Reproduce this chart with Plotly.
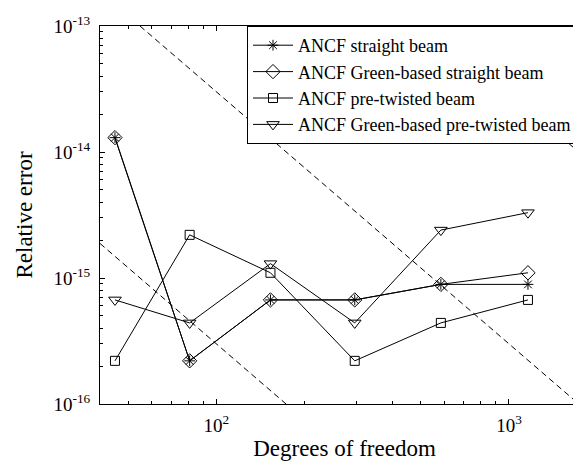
import math
import plotly.graph_objects as go

dof = [45, 81, 153, 297, 585, 1161]
err_straight = [1.3e-14, 2.2e-16, 6.7e-16, 6.7e-16, 8.9e-16, 8.9e-16]
err_green_straight = [1.3e-14, 2.2e-16, 6.7e-16, 6.7e-16, 8.9e-16, 1.1e-15]
err_twisted = [2.2e-16, 2.2e-15, 1.1e-15, 2.2e-16, 4.4e-16, 6.7e-16]
err_green_twisted = [6.7e-16, 4.4e-16, 1.3e-15, 4.4e-16, 2.4e-15, 3.3e-15]

# dashed reference lines (endpoints)
ref1_x = [40, 173]
ref1_y = [1.88e-15, 1e-16]
ref2_x = [54.8, 1732]
ref2_y = [1e-13, 1e-16]
ref3_x = [548, 1877]
ref3_y = [1e-13, 8.5e-15]

ytickvals = [1e-16, 1e-15, 1e-14, 1e-13]
yticktext = ["10<sup>-16</sup>", "10<sup>-15</sup>", "10<sup>-14</sup>", "10<sup>-13</sup>"]
xtickvals = [100, 1000]
xticktext = ["10<sup>2</sup>", "10<sup>3</sup>"]

FONT = '"Liberation Serif", "Times New Roman", Times, serif'

fig = go.Figure()
for rx, ry in [(ref1_x, ref1_y), (ref2_x, ref2_y), (ref3_x, ref3_y)]:
    fig.add_trace(go.Scatter(x=rx, y=ry, mode="lines", showlegend=False,
                             line=dict(color="black", width=1, dash="6px,4px"),
                             hoverinfo="skip"))

series = [
    ("ANCF straight beam", err_straight, "asterisk-open", 9),
    ("ANCF Green-based straight beam", err_green_straight, "diamond-open", 11),
    ("ANCF pre-twisted beam", err_twisted, "square-open", 9),
    ("ANCF Green-based pre-twisted beam", err_green_twisted, "triangle-down-open", 11),
]
for name, ys, sym, sz in series:
    fig.add_trace(go.Scatter(x=dof, y=ys, mode="lines+markers", name=name,
                             line=dict(color="black", width=1),
                             marker=dict(symbol=sym, size=sz, color="black",
                                         line=dict(color="black", width=1))))

fig.update_layout(
    width=581, height=466,
    margin=dict(l=92, r=0, t=18, b=70),
    paper_bgcolor="white", plot_bgcolor="white",
    font=dict(family=FONT, size=19, color="black"),
    showlegend=True,
    legend=dict(x=(239 - 92) / 489, y=1, xanchor="left", yanchor="top",
                bgcolor="white", bordercolor="black", borderwidth=1,
                font=dict(family=FONT, size=18, color="black"),
                itemwidth=40, tracegroupgap=0),
    xaxis=dict(type="log", range=[math.log10(40), math.log10(1877)], automargin=False,
               showline=True, linecolor="black", linewidth=1, mirror="ticks",
               ticks="inside", ticklen=5, tickcolor="black",
               tickvals=xtickvals, ticktext=xticktext, ticklabelstandoff=4,
               minor=dict(dtick="D1", ticks="inside", ticklen=3, tickcolor="black", showgrid=False),
               showgrid=False, zeroline=False,
               tickfont=dict(family=FONT, size=19),
               title=dict(text="Degrees of freedom", font=dict(family=FONT, size=23), standoff=5)),
    yaxis=dict(type="log", range=[-16, -13], automargin=False,
               showline=True, linecolor="black", linewidth=1, mirror=False,
               ticks="inside", ticklen=5, tickcolor="black",
               tickvals=ytickvals, ticktext=yticktext, ticklabelstandoff=5,
               minor=dict(dtick="D1", ticks="inside", ticklen=3, tickcolor="black", showgrid=False),
               showgrid=False, zeroline=False,
               tickfont=dict(family=FONT, size=19),
               title=dict(text="Relative error", font=dict(family=FONT, size=23), standoff=14)),
)

fig.write_html("out.html")
